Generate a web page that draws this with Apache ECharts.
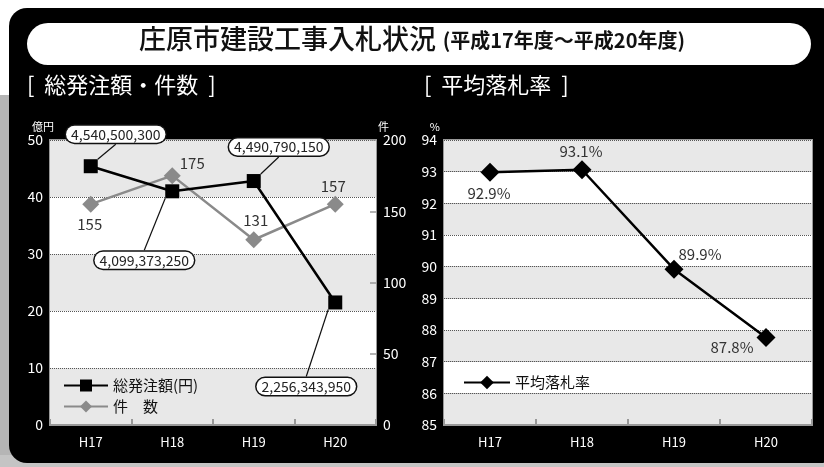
<!DOCTYPE html>
<html>
<head>
<meta charset="utf-8">
<script src="https://cdn.jsdelivr.net/npm/echarts@6/dist/echarts.min.js"></script>
<style>
  html, body { margin: 0; padding: 0; background: #fff; }
  #chart { width: 824px; height: 467px; }
</style>
</head>
<body>
<div id="chart"></div>
<script>
// data
const years = ['H17', 'H18', 'H19', 'H20']
const amountOku = [45.4, 41.0, 42.8, 21.5]          // 億円 (plotted)
const amountText = ['4,540,500,300', '4,099,373,250', '4,490,790,150', '2,256,343,950']
const counts = [155, 175, 130, 155]
const countText = ['155', '175', '131', '157']
const rates = [92.98, 93.06, 89.92, 87.76]
const rateText = ['92.9%', '93.1%', '89.9%', '87.8%']

// label offsets from the point (px)
const amountOffset = [[25, -32], [-28, 69], [25, -34], [-29, 84]]
const countOffset = [[-1, 20], [20, -12], [2, -19], [-2, -18]]
const rateOffset = [[-1, 21], [-1, -18], [26, -15], [-34, 10]]

const FONT = '"Noto Sans CJK JP", "Noto Sans", sans-serif'
const bands = ['#e8e8e8', '#ffffff']

const chart = echarts.init(document.getElementById('chart'))

function offsetLayout(offsets) {
  return function (params) {
    const o = offsets[params.dataIndex]
    return { dx: o[0], dy: o[1] }
  }
}

function valueAxis(grid, opts) {
  return Object.assign({
    type: 'value',
    gridIndex: grid,
    nameLocation: 'end',
    nameGap: 8,
    nameTextStyle: { color: '#fff', fontSize: 11, fontFamily: FONT },
    axisLine: { show: false },
    axisTick: { show: false },
    axisLabel: { color: '#fff', fontSize: 14, fontFamily: FONT, margin: 7 },
    splitLine: { show: true, lineStyle: { color: '#555', type: 'dotted', width: 1 } },
    splitArea: { show: true, areaStyle: { color: bands } }
  }, opts)
}

function catAxis(grid) {
  return {
    type: 'category',
    gridIndex: grid,
    data: years,
    boundaryGap: true,
    axisLine: { show: true, lineStyle: { color: '#999', width: 2 } },
    axisTick: { show: true, inside: true, length: 6, lineStyle: { color: '#999', width: 2 } },
    axisLabel: { color: '#fff', fontSize: 13, fontFamily: FONT, margin: 11 }
  }
}

chart.setOption({
  backgroundColor: 'transparent',
  textStyle: { fontFamily: FONT },
  animation: false,
  graphic: [
    { type: 'rect', z: -10, shape: { x: 0, y: 95, width: 12, height: 372 }, style: { fill: '#b5b5b5' } },
    { type: 'rect', z: -10, shape: { x: 0, y: 455, width: 824, height: 12 }, style: { fill: '#c4c4c4' } },
    { type: 'rect', z: -9, shape: { x: 9, y: 8, width: 830, height: 455, r: 18 }, style: { fill: '#000' } },
    { type: 'rect', z: -8, shape: { x: 27, y: 23, width: 784, height: 42, r: 21 }, style: { fill: '#fff' } },
    {
      type: 'text', z: -7, left: 'center', top: 25,
      style: {
        text: '{a|庄原市建設工事入札状況}  {b|(平成17年度〜平成20年度)}',
        rich: {
          a: { fontSize: 27, fontFamily: FONT, fontWeight: 500, fill: '#111', verticalAlign: 'bottom' },
          b: { fontSize: 20, fontFamily: FONT, fontWeight: 'bold', fill: '#111', verticalAlign: 'bottom', padding: [0, 0, 2, 0] }
        }
      }
    },
    { type: 'text', z: -7, left: 27, top: 74, style: { text: '[  総発注額・件数  ]', fontSize: 22, fontFamily: FONT, fill: '#fff' } },
    { type: 'text', z: -7, left: 424, top: 74, style: { text: '[  平均落札率  ]', fontSize: 22, fontFamily: FONT, fill: '#fff' } }
  ],
  grid: [
    { left: 50, top: 140, width: 326, height: 285, show: true, borderColor: '#999', borderWidth: 2, backgroundColor: 'transparent' },
    { left: 444, top: 140, width: 368, height: 285, show: true, borderColor: '#999', borderWidth: 2, backgroundColor: 'transparent' }
  ],
  legend: [
    {
      orient: 'vertical', left: 58, top: 373, itemWidth: 44, itemHeight: 15, itemGap: 6,
      data: ['総発注額(円)', '件　数'],
      textStyle: { color: '#111', fontSize: 15, fontFamily: FONT }
    },
    {
      orient: 'vertical', left: 458, top: 370, itemWidth: 46, itemHeight: 17,
      data: ['平均落札率'],
      textStyle: { color: '#111', fontSize: 15, fontFamily: FONT }
    }
  ],
  xAxis: [catAxis(0), catAxis(1)],
  yAxis: [
    valueAxis(0, { min: 0, max: 50, interval: 10, name: '億円', nameTextStyle: { color: '#fff', fontSize: 11, fontFamily: FONT, align: 'right', padding: [0, -4, 0, 0] } }),
    valueAxis(0, {
      min: 0, max: 200, interval: 50, position: 'right', name: '件',
      nameTextStyle: { color: '#fff', fontSize: 11, fontFamily: FONT, align: 'left', padding: [0, 0, 0, 2] },
      axisTick: { show: true, inside: true, length: 6, lineStyle: { color: '#999', width: 1.5 } },
      splitLine: { show: false }, splitArea: { show: false }
    }),
    valueAxis(1, { min: 85, max: 94, interval: 1, name: '%', nameTextStyle: { color: '#fff', fontSize: 11, fontFamily: FONT, align: 'right', padding: [0, 4, 0, 0] } })
  ],
  series: [
    {
      name: '総発注額(円)', type: 'line', xAxisIndex: 0, yAxisIndex: 0,
      data: amountOku, symbol: 'rect', symbolSize: 14, z: 4,
      itemStyle: { color: '#000' }, lineStyle: { color: '#000', width: 2.5 },
      label: {
        show: true, position: 'inside',
        formatter: p => amountText[p.dataIndex],
        color: '#222', fontSize: 14, fontFamily: FONT,
        backgroundColor: '#fff', borderColor: '#111', borderWidth: 1.5, borderRadius: 10,
        padding: [2, 5, 1, 5]
      },
      labelLine: { show: true, lineStyle: { color: '#111', width: 1.2 } },
      labelLayout: offsetLayout(amountOffset)
    },
    {
      name: '件　数', type: 'line', xAxisIndex: 0, yAxisIndex: 1,
      data: counts, symbol: 'diamond', symbolSize: 17, z: 3,
      itemStyle: { color: '#8a8a8a' }, lineStyle: { color: '#8a8a8a', width: 2.5 },
      label: {
        show: true, position: 'inside',
        formatter: p => countText[p.dataIndex],
        color: '#333', fontSize: 15, fontFamily: FONT
      },
      labelLayout: offsetLayout(countOffset)
    },
    {
      name: '平均落札率', type: 'line', xAxisIndex: 1, yAxisIndex: 2,
      data: rates, symbol: 'diamond', symbolSize: 19,
      itemStyle: { color: '#000' }, lineStyle: { color: '#000', width: 2.5 },
      label: {
        show: true, position: 'inside',
        formatter: p => rateText[p.dataIndex],
        color: '#333', fontSize: 15, fontFamily: FONT
      },
      labelLayout: offsetLayout(rateOffset)
    }
  ]
})
</script>
</body>
</html>
